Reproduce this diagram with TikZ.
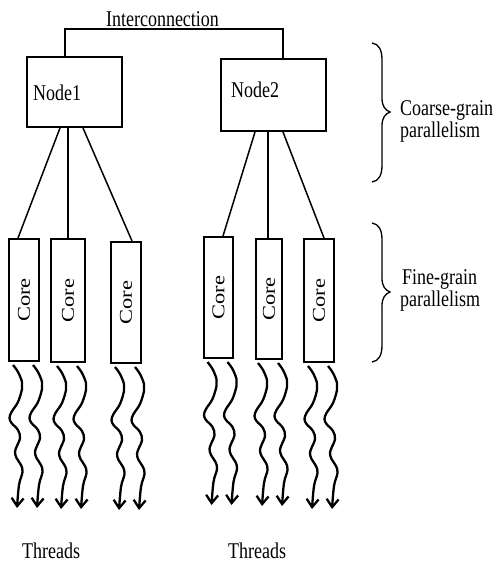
\documentclass[tikz,border=0pt]{standalone}
\usepackage{fontspec}
\setmainfont{Liberation Serif}
\usetikzlibrary{arrows.meta}
\newcommand\sy[1]{\scalebox{1}[1.25]{#1}}
\newcommand\sr[1]{\rotatebox{90}{\scalebox{1.25}[1]{#1}}}
\begin{document}
\begin{tikzpicture}[x=1pt,y=-1pt,
  box/.style={draw,line width=2pt,inner sep=0pt},
  lbl/.style={inner sep=0pt,font=\fontsize{18}{20}\selectfont},
  conn/.style={line width=1.5pt},
  thread/.style={line width=2.3pt,-{Straight Barb[length=8pt,width=12pt,line width=2.3pt]}},
  bracestyle/.style={line width=1.3pt},
  thr/.pic={\draw[thread] plot[smooth,tension=0.6] coordinates {(0,0) (5,7) (9,17) (9,24) (5,37) (-1.5,47) (-3.5,53) (-1.5,58) (5,65) (7,73) (3.5,82) (2,87) (3.5,93) (8,100) (9.5,107) (6,120) (4,143)};}
]
\useasboundingbox (0,0) rectangle (498,564);
% compute nodes
\node[box,minimum width=95pt,minimum height=70pt] (n1) at (74.5,92) {};
\node[box,minimum width=105pt,minimum height=72pt] (n2) at (273.5,95) {};
\node[lbl,anchor=base west] (n1t) at (33,101) {\sy{Node1}};
\node[lbl,anchor=base west] (n2t) at (231,98) {\sy{Node2}};
% cores
\node[box,lbl,minimum width=30pt,minimum height=122pt] (c1) at (24,300) {\sr{Core}};
\node[box,lbl,minimum width=34pt,minimum height=123pt] (c2) at (68,300.5) {\sr{Core}};
\node[box,lbl,minimum width=30pt,minimum height=121pt] (c3) at (126,302.5) {\sr{Core}};
\node[box,lbl,minimum width=29pt,minimum height=121pt] (c4) at (218.5,297.5) {\sr{Core}};
\node[box,lbl,minimum width=26pt,minimum height=120pt] (c5) at (269,299) {\sr{Core}};
\node[box,lbl,minimum width=30pt,minimum height=123pt] (c6) at (319,300.5) {\sr{Core}};
% connectors
\draw[conn] ([xshift=-14.5pt]n1.south) -- ([xshift=-6pt]c1.north);
\draw[conn] ([xshift=-6.5pt]n1.south) -- (c2.north);
\draw[conn] ([xshift=8.5pt]n1.south) -- ([xshift=6pt]c3.north);
\draw[conn] ([xshift=-18.5pt]n2.south) -- ([xshift=4.5pt]c4.north);
\draw[conn] ([xshift=-5.5pt]n2.south) -- ([xshift=-1pt]c5.north);
\draw[conn] ([xshift=9.5pt]n2.south) -- ([xshift=5pt]c6.north);
% interconnection
\coordinate (ic) at (174,29);
\draw[conn] ([xshift=-9.5pt]n1.north) |- (ic) -| ([xshift=9.5pt]n2.north);
\node[lbl,anchor=base] (ict) at (162.5,26.5) {\sy{Interconnection}};
% threads
\foreach \c in {c1,c2,c3,c4,c5,c6}{
  \pic at ([xshift=-11pt,yshift=-3pt]\c.south) {thr};
  \pic at ([xshift=9pt,yshift=-3pt]\c.south) {thr};
}
% braces
\draw[bracestyle] (372,43) .. controls (379,44) and (382,50) .. (382,60) -- (382,98) .. controls (382,106) and (385,110) .. (390,112) .. controls (385,114) and (382,118) .. (382,126) -- (382,165) .. controls (382,175) and (379,181) .. (372,182);
\draw[bracestyle] (372,223) .. controls (379,224) and (382,230) .. (382,240) -- (382,278) .. controls (382,286) and (385,290) .. (390,292) .. controls (385,294) and (382,298) .. (382,306) -- (382,345) .. controls (382,355) and (379,361) .. (372,362);
% side labels
\node[lbl,anchor=base west] (cg1) at (400,116) {\sy{Coarse-grain}};
\node[lbl,anchor=base west] (cg2) at (400,138) {\sy{parallelism}};
\node[lbl,anchor=base west] (fg1) at (402,284) {\sy{Fine-grain}};
\node[lbl,anchor=base west] (fg2) at (400,306) {\sy{parallelism}};
% thread labels
\node[lbl,anchor=base west] (t1) at (22,558) {\sy{Threads}};
\node[lbl,anchor=base west] (t2) at (228,558) {\sy{Threads}};
\end{tikzpicture}
\end{document}
